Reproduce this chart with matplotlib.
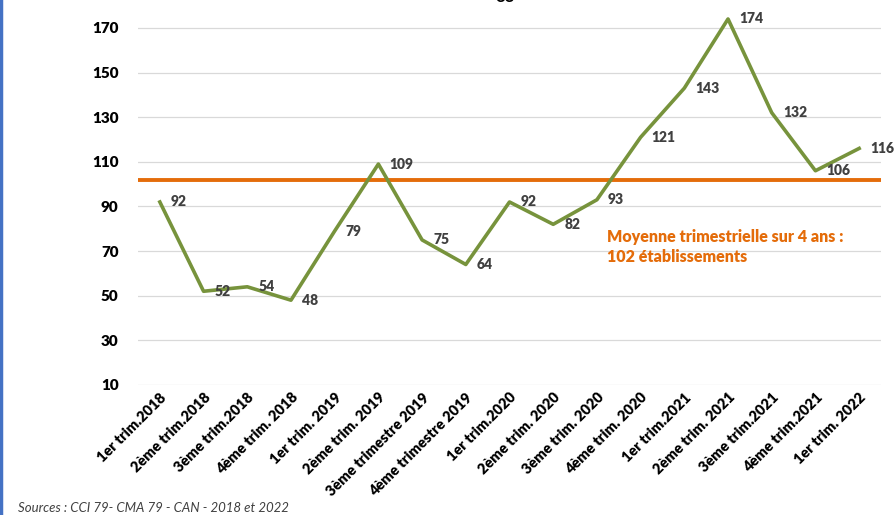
import matplotlib
matplotlib.use("Agg")
import matplotlib.pyplot as plt
from matplotlib.lines import Line2D

categories = ["1er trim.2018", "2ème trim.2018", "3ème trim.2018", "4ème trim. 2018",
              "1er trim. 2019", "2ème trim. 2019", "3ème trimestre 2019", "4ème trimestre 2019",
              "1er trim.2020", "2ème trim. 2020", "3ème trim. 2020", "4ème trim. 2020",
              "1er trim.2021", "2ème trim. 2021", "3ème trim.2021", "4ème trim.2021",
              "1er trim. 2022"]
values = [92, 52, 54, 48, 79, 109, 75, 64, 92, 82, 93, 121, 143, 174, 132, 106, 116]
mean_value = 102
yticks = [10, 30, 50, 70, 90, 110, 130, 150, 170]

plt.rcParams['font.family'] = ['Lato', 'DejaVu Sans']

fig = plt.figure(figsize=(8.95, 5.15), dpi=100)
ax = fig.add_axes([138/895, 130/515, (881-138)/895, 385/515])

x = list(range(len(categories)))
ax.set_xlim(-0.5, len(categories) - 0.5)
ax.set_ylim(10, 182.5)
for t in yticks:
    ax.axhline(t, color="#D9D9D9", lw=0.9, zorder=0)

ax.axhline(mean_value, color="#E46C0A", lw=2.8, zorder=2)
ax.plot(x, values, color="#77933C", lw=2.6, zorder=3)
for xi, v in zip(x, values):
    ax.annotate(str(v), (xi, v), xytext=(8, 0), textcoords="offset points",
                ha="left", va="center", fontsize=10, fontweight="heavy", color="#404040")

ax.set_xticks(x)
ax.set_xticklabels(categories, rotation=45, ha="right", rotation_mode="anchor",
                   fontsize=10.5, fontweight="heavy", color="black")
ax.set_yticks(yticks)
ax.set_yticklabels([str(t) for t in yticks], fontsize=11, fontweight="heavy", color="black")
ax.tick_params(axis="both", length=0)
ax.tick_params(axis="y", pad=14)
ax.tick_params(axis="x", pad=4)
for s in ax.spines.values():
    s.set_visible(False)

ax.text(10.24, 72, "Moyenne trimestrielle sur 4 ans :\n102 établissements", fontsize=11.5,
        fontweight="heavy", color="#E46C0A", ha="left", va="center", linespacing=1.3)

fig.text(18/895, 7/515, "Sources : CCI 79- CMA 79 - CAN - 2018 et 2022", fontsize=9.5,
         style="italic", color="#404040", ha="left", va="center")
fig.text(505/895, 1.005, "88", fontsize=12, fontweight="bold", ha="center", va="center")

fig.add_artist(Line2D([1/895, 1/895], [0, 1], transform=fig.transFigure, color="#4472C4", lw=2.5))

fig.savefig("out.png", dpi=100)
